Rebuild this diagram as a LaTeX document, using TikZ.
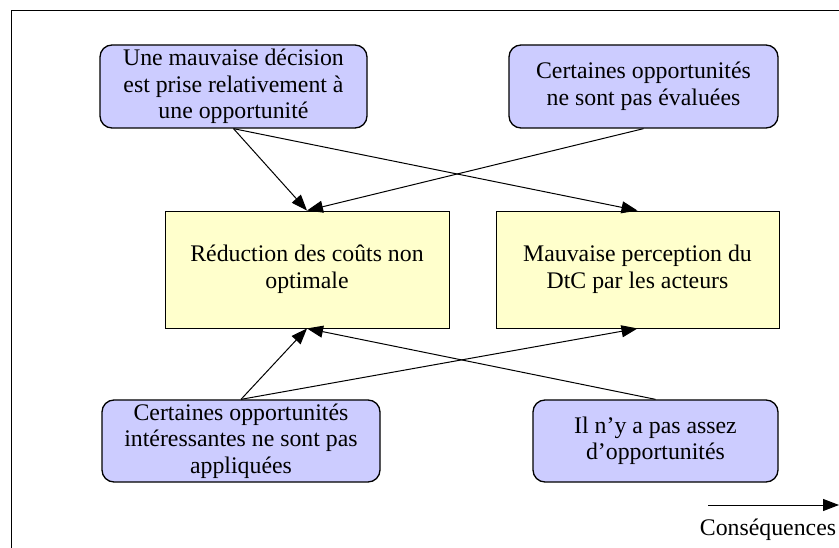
\documentclass[tikz,border=0pt]{standalone}
\usepackage{fontspec}
\setmainfont{Liberation Serif}
\usetikzlibrary{arrows.meta}
\definecolor{causefill}{HTML}{CCCCFF}
\definecolor{effectfill}{HTML}{FFFFCC}
\begin{document}
\begin{tikzpicture}[x=1pt,y=-1pt,
  txt/.style={font=\fontsize{23.8}{26.5}\selectfont, align=center, inner sep=0pt},
  cause/.style={txt, draw, line width=1.3pt, fill=causefill, rounded corners=12pt},
  effect/.style={txt, draw, line width=0.9pt, fill=effectfill},
  link/.style={line width=1pt, -{Triangle[length=16pt,width=12pt]}}]
\useasboundingbox (0,0) rectangle (839,548);
% frame
\draw[line width=0.9pt] (11,548) -- (11,10) -- (839,10);
% causes
\node[cause, minimum width=267pt, minimum height=83pt] (A) at (233.5,86.5)
  {Une mauvaise décision\\est prise relativement à\\une opportunité};
\node[cause, minimum width=269pt, minimum height=83pt] (B) at (643.5,86.5)
  {Certaines opportunités\\ne sont pas évaluées};
\node[cause, minimum width=278pt, minimum height=82pt] (E) at (241,441)
  {Certaines opportunités\\intéressantes ne sont pas\\appliquées};
\node[cause, minimum width=245pt, minimum height=82pt] (F) at (655.5,441)
  {Il n’y a pas assez\\d’opportunités};
% consequences
\node[effect, minimum width=284pt, minimum height=117pt] (C) at (307,269.5)
  {Réduction des coûts non\\optimale};
\node[effect, minimum width=283pt, minimum height=117pt] (D) at (637.5,269.5)
  {Mauvaise perception du\\DtC par les acteurs};
% links
\draw[link] (A.south) -- (C.north);
\draw[link] (A.south) -- (D.north);
\draw[link] (B.south) -- (C.north);
\draw[link] (E.north) -- (C.south);
\draw[link] (F.north) -- (C.south);
\draw[link] (E.north) -- (D.south);
% legend
\coordinate (l0) at (708,505);
\coordinate (l1) at (839,505);
\draw[link] (l0) -- (l1);
\node[txt] (leg) at (768,530) {Conséquences};
\end{tikzpicture}
\end{document}
